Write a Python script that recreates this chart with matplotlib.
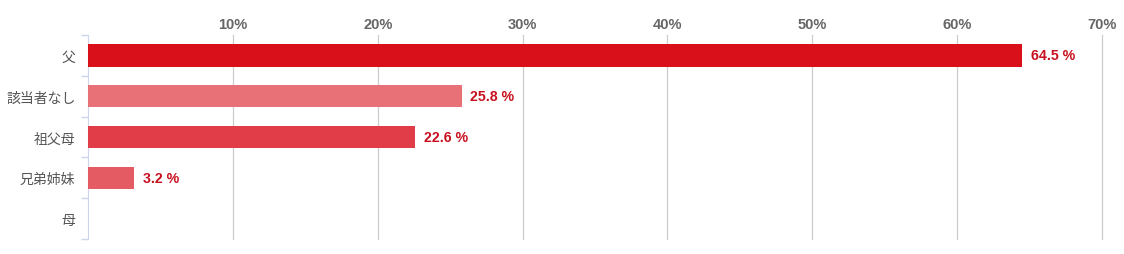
import matplotlib
matplotlib.use("Agg")
import matplotlib.pyplot as plt

categories = ["父", "該当者なし", "祖父母", "兄弟姉妹", "母"]
values = [64.5, 25.8, 22.6, 3.2, 0.0]
bar_colors = ["#d90f1a", "#e87077", "#e03d49", "#e55b64", "#e55b64"]
x_ticks = [10, 20, 30, 40, 50, 60, 70]
x_tick_labels = ["10%", "20%", "30%", "40%", "50%", "60%", "70%"]

plt.rcParams["font.family"] = ["Liberation Sans", "Noto Sans CJK JP", "DejaVu Sans"]

fig = plt.figure(figsize=(11.24, 2.55), dpi=100)
ax = fig.add_axes([88 / 1124, 1 - 240 / 255, (1102 - 88) / 1124, (240 - 36) / 255])

ypos = list(range(len(categories)))
ax.barh(ypos, values, height=0.55, color=bar_colors, zorder=3)

for y, v in zip(ypos, values):
    if v > 0:
        ax.annotate(f"{v} %", (v, y), xytext=(6, 0), textcoords="offset points",
                    va="center", ha="left", fontsize=10.2, fontweight="bold",
                    color="#c8101e")

ax.set_xlim(0, 70)
ax.set_ylim(len(categories) - 0.5, -0.5)

ax.xaxis.tick_top()
ax.set_xticks(x_ticks)
ax.set_xticklabels(x_tick_labels, fontsize=10.5, fontweight="bold", color="#666666")
ax.tick_params(axis="x", length=0, pad=3)
ax.grid(axis="x", color="#cccccc", linewidth=0.9, zorder=0)
for line in ax.get_xgridlines():
    line.set_clip_on(False)

ax.set_yticks(ypos)
ax.set_yticklabels(categories, fontsize=10, color="#555555",
                   family=["Noto Sans CJK JP", "DejaVu Sans"])
ax.tick_params(axis="y", which="major", length=0, pad=9)
ax.set_yticks([i - 0.5 for i in range(len(categories) + 1)], minor=True)
ax.tick_params(axis="y", which="minor", length=5, color="#ccd6eb", width=1)

for s in ["top", "right", "bottom"]:
    ax.spines[s].set_visible(False)
ax.spines["left"].set_color("#ccd6eb")

fig.savefig("out.png", dpi=100)
